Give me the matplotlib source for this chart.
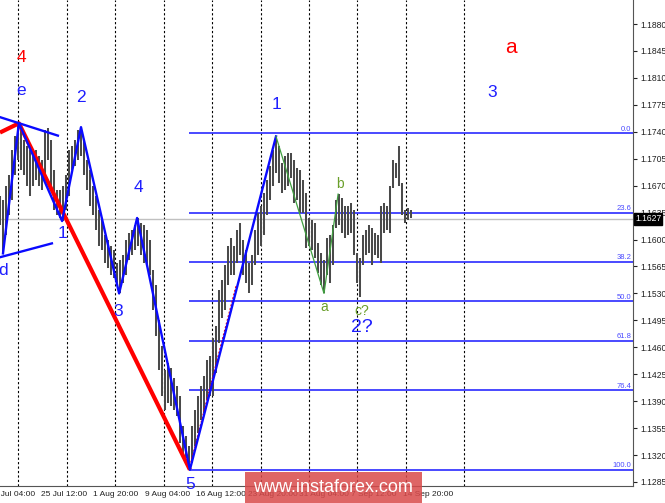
import matplotlib
matplotlib.use('Agg')
import matplotlib.pyplot as plt
import matplotlib.transforms as mtransforms
from matplotlib.patches import Rectangle

plt.rcParams['font.family'] = ['Liberation Sans', 'DejaVu Sans']

# EUR/USD bars, high and low of each bar
bar_high = [1.1657, 1.1651, 1.1670, 1.1684, 1.1716, 1.1735, 1.1752, 1.1749, 1.1729, 1.1722,
            1.1716, 1.1709, 1.1716, 1.1709, 1.1703, 1.1742, 1.1745, 1.1729, 1.1690, 1.1664,
            1.1664, 1.1670, 1.1684, 1.1716, 1.1722, 1.1729, 1.1742, 1.1746, 1.1729, 1.1703,
            1.1690, 1.1670, 1.1657, 1.1638, 1.1625, 1.1606, 1.1599, 1.1592, 1.1586, 1.1570,
            1.1573, 1.1580, 1.1599, 1.1608, 1.1612, 1.1619, 1.1628, 1.1621, 1.1619, 1.1612,
            1.1599, 1.1560, 1.1541, 1.1495, 1.1462, 1.1430, 1.1440, 1.1433, 1.1420, 1.1410,
            1.1397, 1.1358, 1.1345, 1.1332, 1.1358, 1.1378, 1.1397, 1.1410, 1.1423, 1.1443,
            1.1449, 1.1472, 1.1488, 1.1534, 1.1547, 1.1567, 1.1592, 1.1602, 1.1592, 1.1612,
            1.1622, 1.1599, 1.1586, 1.1570, 1.1580, 1.1612, 1.1635, 1.1644, 1.1661, 1.1677,
            1.1696, 1.1716, 1.1733, 1.1722, 1.1700, 1.1709, 1.1713, 1.1713, 1.1703, 1.1693,
            1.1690, 1.1677, 1.1661, 1.1628, 1.1625, 1.1622, 1.1596, 1.1583, 1.1573, 1.1602,
            1.1606, 1.1619, 1.1651, 1.1659, 1.1654, 1.1644, 1.1644, 1.1648, 1.1638, 1.1583,
            1.1576, 1.1606, 1.1612, 1.1619, 1.1615, 1.1609, 1.1606, 1.1644, 1.1648, 1.1644,
            1.1670, 1.1703, 1.1700, 1.1721, 1.1674, 1.1638, 1.1641, 1.1638]
bar_low = [1.1619, 1.1582, 1.1606, 1.1632, 1.1651, 1.1684, 1.1703, 1.1690, 1.1684, 1.1670,
           1.1657, 1.1670, 1.1677, 1.1670, 1.1664, 1.1684, 1.1703, 1.1664, 1.1638, 1.1632,
           1.1628, 1.1624, 1.1638, 1.1657, 1.1690, 1.1696, 1.1703, 1.1709, 1.1684, 1.1664,
           1.1644, 1.1632, 1.1612, 1.1592, 1.1586, 1.1570, 1.1563, 1.1554, 1.1550, 1.1541,
           1.1530, 1.1544, 1.1554, 1.1573, 1.1580, 1.1586, 1.1592, 1.1580, 1.1570, 1.1567,
           1.1554, 1.1508, 1.1475, 1.1430, 1.1397, 1.1378, 1.1388, 1.1384, 1.1378, 1.1371,
           1.1336, 1.1323, 1.1316, 1.1301, 1.1310, 1.1332, 1.1349, 1.1365, 1.1375, 1.1391,
           1.1397, 1.1397, 1.1427, 1.1466, 1.1498, 1.1508, 1.1541, 1.1554, 1.1554, 1.1570,
           1.1580, 1.1554, 1.1544, 1.1530, 1.1541, 1.1567, 1.1580, 1.1592, 1.1606, 1.1632,
           1.1651, 1.1670, 1.1687, 1.1674, 1.1661, 1.1664, 1.1670, 1.1680, 1.1648, 1.1651,
           1.1635, 1.1635, 1.1589, 1.1592, 1.1586, 1.1576, 1.1557, 1.1541, 1.1530, 1.1554,
           1.1544, 1.1567, 1.1615, 1.1619, 1.1609, 1.1602, 1.1606, 1.1609, 1.1580, 1.1544,
           1.1525, 1.1567, 1.1580, 1.1583, 1.1567, 1.1580, 1.1576, 1.1570, 1.1609, 1.1612,
           1.1609, 1.1667, 1.1680, 1.1670, 1.1632, 1.1622, 1.1625, 1.1628]
last_price = 1.1627

# fibo grid from wave 5 low to wave 1 high
fib_top = 1.1738
fib_bottom = 1.1301
fib_levels = [0.0, 23.6, 38.2, 50.0, 61.8, 76.4, 100.0]
fib_start_bar = 63

# wave marking (bar index, price)
blue_wave_x = [1, 6.3, 20.7, 27, 39.7, 45.7, 63.3, 92]
blue_wave_y = [1.1582, 1.1751, 1.1624, 1.1746, 1.1530, 1.1628, 1.1301, 1.1734]
tri_upper_x = [0, 19.3]
tri_upper_y = [1.1759, 1.1735]
tri_lower_x = [0, 17.3]
tri_lower_y = [1.1577, 1.1595]
red_wave_x = [0, 6.3, 63.3]
red_wave_y = [1.1739, 1.1751, 1.1301]
red_dot_x = [63.0, 78.7]
red_dot_y = [1.1301, 1.1540]
green_wave_x = [92, 108, 112.7]
green_wave_y = [1.1734, 1.1530, 1.1659]

blue_labels = ['e', 'd', '1', '2', '3', '4', '5', '1', '2?', '3']
blue_label_x = [7, 1, 20.7, 27, 39.3, 46.3, 63.3, 92.3, 120.7, 164]
blue_label_y = [1.1793, 1.1560, 1.1608, 1.1785, 1.1507, 1.1668, 1.1282, 1.1776, 1.1486, 1.1791]
red_labels = ['4', 'a']
red_label_x = [7, 170.3]
red_label_y = [1.1837, 1.1849]
green_labels = ['a', 'b', 'c?']
green_label_x = [108, 113.3, 120.7]
green_label_y = [1.1513, 1.1672, 1.1507]

price_ticks = [1.1285, 1.1320, 1.1355, 1.1390, 1.1425, 1.1460, 1.1495, 1.1530, 1.1565,
               1.1600, 1.1635, 1.1670, 1.1705, 1.1740, 1.1775, 1.1810, 1.1845, 1.1880]
grid_bars = [6, 22.3, 38.3, 54.7, 70.7, 87, 103, 119, 135.3, 154.7]
time_labels = ['18 Jul 04:00', '25 Jul 12:00', '1 Aug 20:00', '9 Aug 04:00', '16 Aug 12:00',
               '23 Aug 20:00', '31 Aug 04:00', '7 Sep 12:00', '14 Sep 20:00']
time_label_bars = [-3.7, 13.7, 31, 48.3, 65.3, 82.7, 99.7, 117, 134.3]

fig = plt.figure(figsize=(6.65, 5.03), dpi=100)
ax = fig.add_axes([0, 17 / 503, 633 / 665, 486 / 503])
ax.set_xlim(0, 211)
ax.set_ylim(1.12798, 1.19112)

for x in grid_bars:
    ax.axvline(x, color='black', lw=0.8, ls=(0, (2, 2)), zorder=1)

ax.axhline(last_price, color='#c0c0c0', lw=1, zorder=1)

# fibo levels
fib_w = fib_top - fib_bottom
for lvl in fib_levels:
    p = fib_top - lvl / 100 * fib_w
    ax.hlines(p, fib_start_bar, 211, color='#3a3aff', lw=1.3, zorder=2)
    ax.text(210.4, p + 0.0001, f'{lvl:.1f}', ha='right', va='bottom', fontsize=5.5,
            color='#4a4aff', zorder=5)

# bars
ax.vlines(range(len(bar_high)), bar_low, bar_high, color='#4a4a4a', lw=1.45, zorder=3)

ax.plot(red_wave_x, red_wave_y, color='#ff0000', lw=3, zorder=4, solid_capstyle='butt')
ax.plot(red_dot_x, red_dot_y, color='#ff0000', lw=0.9, ls=(0, (1.5, 1.5)), zorder=4)
ax.plot(blue_wave_x, blue_wave_y, color='#0a0aff', lw=1.7, zorder=5)
ax.plot(tri_upper_x, tri_upper_y, color='#0a0aff', lw=1.7, zorder=5)
ax.plot(tri_lower_x, tri_lower_y, color='#0a0aff', lw=1.7, zorder=5)
ax.plot(green_wave_x, green_wave_y, color='#3f9f3f', lw=0.9, zorder=5)

for t, x, y in zip(blue_labels, blue_label_x, blue_label_y):
    size = 14 if t == '2?' else 12.5
    ax.text(x, y, t, color='#1e1eff', fontsize=size, ha='center', va='center', zorder=6)
for t, x, y in zip(red_labels, red_label_x, red_label_y):
    size = 12.5 if t == '4' else 15
    ax.text(x, y, t, color='#ff0000', fontsize=size, ha='center', va='center', zorder=6)
for t, x, y in zip(green_labels, green_label_x, green_label_y):
    ax.text(x, y, t, color='#6a9f2a', fontsize=10, ha='center', va='center', zorder=6)

# axes look like the terminal
for side in ['left', 'top']:
    ax.spines[side].set_visible(False)
ax.spines['right'].set_color('#555555')
ax.spines['bottom'].set_color('#555555')
ax.yaxis.tick_right()
ax.set_yticks(price_ticks)
ax.set_yticklabels([f'{p:.4f}' for p in price_ticks])
ax.tick_params(axis='y', direction='out', length=3, width=0.8, pad=2, labelsize=6.2,
               colors='#222222')
ax.set_xticks([])

trans = mtransforms.blended_transform_factory(ax.transData, ax.transAxes)
for t, x in zip(time_labels, time_label_bars):
    ax.text(x, -0.017, t, transform=trans, ha='left', va='center', fontsize=6,
            color='#222222', clip_on=False)

ax.text(1.003, last_price, '1.1627', transform=mtransforms.blended_transform_factory(ax.transAxes, ax.transData),
        ha='left', va='center', fontsize=6.2, color='white', zorder=10, clip_on=False,
        bbox=dict(boxstyle='square,pad=0.15', fc='black', ec='black'))

# watermark
fig.patches.append(Rectangle((245 / 665, 0), 177 / 665, 31 / 503, transform=fig.transFigure,
                             fc='#d94a4a', alpha=0.85, zorder=20))
fig.text(333 / 665, 15 / 503, 'www.instaforex.com', color='white', fontsize=13,
         ha='center', va='center', zorder=21)

plt.savefig('out.png', dpi=100)
plt.close()
